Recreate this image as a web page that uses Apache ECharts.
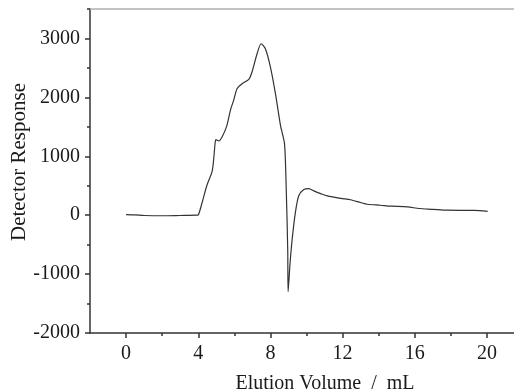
<!DOCTYPE html>
<html>
<head>
<meta charset="utf-8">
<script src="https://cdn.jsdelivr.net/npm/echarts@6/dist/echarts.min.js"></script>
<style>html,body{margin:0;padding:0;background:#fff;}#c{width:514px;height:391px;}</style>
</head>
<body>
<div id="c"></div>
<script>
const elutionVolume = [0, 0.5, 1, 2, 3, 3.9, 4.0, 4.2, 4.48, 4.76, 4.85, 4.94, 4.98, 5.13, 5.32, 5.59, 5.78, 5.96, 6.15, 6.43, 6.8, 6.98, 7.26, 7.48, 7.72, 8.0, 8.28, 8.56, 8.78, 8.88, 8.96, 8.98, 9.08, 9.2, 9.39, 9.57, 9.85, 10.13, 10.4, 10.78, 11.15, 11.9, 12.44, 13.0, 13.37, 14.1, 14.67, 15.6, 16.24, 17.0, 17.8, 19.3, 20.04];
const detectorResponse = [10, 5, -5, -10, -5, 0, 5, 198, 508, 734, 932, 1242, 1283, 1260, 1327, 1525, 1780, 1949, 2147, 2232, 2305, 2430, 2740, 2910, 2825, 2514, 2060, 1520, 1215, 400, -600, -1300, -850, -424, 60, 330, 435, 452, 412, 367, 328, 285, 262, 215, 186, 169, 153, 141, 113, 100, 85, 80, 63];
const xTickLabels = [0, 4, 8, 12, 16, 20];
const xMinorTicks = [2, 6, 10, 14, 18];
const yTickLabels = [-2000, -1000, 0, 1000, 2000, 3000];
const yMinorTicks = [-1500, -500, 500, 1500, 2500, 3500];

const font = 'Liberation Serif, Times New Roman, serif';
const axisColor = '#333';
const points = elutionVolume.map((v, i) => [v, detectorResponse[i]]);

const chart = echarts.init(document.getElementById('c'));
chart.setOption({
  animation: false,
  grid: {left: 90, right: 0, top: 9, bottom: 58, containLabel: false, outerBoundsMode: 'none'},
  xAxis: [
    {
      type: 'value', min: -2, max: 21.5, position: 'bottom',
      name: 'Elution Volume  /  mL', nameLocation: 'middle', nameGap: 41, nameMoveOverlap: false,
      nameTextStyle: {fontFamily: font, fontSize: 20, color: '#1a1a1a', padding: [0, 0, 0, 46]},
      axisLine: {show: true, onZero: false, lineStyle: {color: axisColor, width: 1.5}},
      axisTick: {show: true, customValues: xTickLabels, length: 5, lineStyle: {color: axisColor, width: 1.5}},
      axisLabel: {customValues: xTickLabels, fontFamily: font, fontSize: 20, color: '#1a1a1a', margin: 11, formatter: v => String(v)},
      splitLine: {show: false}
    },
    {
      type: 'value', min: -2, max: 21.5, position: 'bottom',
      axisLine: {show: false, onZero: false},
      axisTick: {show: true, customValues: xMinorTicks, length: 3, lineStyle: {color: axisColor, width: 1.5}},
      axisLabel: {show: false},
      splitLine: {show: false}
    },
    {
      type: 'value', min: -2, max: 21.5, position: 'top',
      axisLine: {show: true, onZero: false, lineStyle: {color: '#b0b0b0', width: 1.5}},
      axisTick: {show: false}, axisLabel: {show: false}, splitLine: {show: false}
    }
  ],
  yAxis: [
    {
      type: 'value', min: -2000, max: 3500, position: 'left',
      name: 'Detector Response', nameLocation: 'middle', nameGap: 60, nameMoveOverlap: false,
      nameTextStyle: {fontFamily: font, fontSize: 21, color: '#1a1a1a', padding: [0, 0, 0, 18]},
      axisLine: {show: true, onZero: false, lineStyle: {color: axisColor, width: 1.5}},
      axisTick: {show: true, customValues: yTickLabels, length: 5, lineStyle: {color: axisColor, width: 1.5}},
      axisLabel: {customValues: yTickLabels, fontFamily: font, fontSize: 20, color: '#1a1a1a', margin: 10, formatter: v => String(v)},
      splitLine: {show: false}
    },
    {
      type: 'value', min: -2000, max: 3500, position: 'left',
      axisLine: {show: false, onZero: false},
      axisTick: {show: true, customValues: yMinorTicks, length: 3, lineStyle: {color: axisColor, width: 1.5}},
      axisLabel: {show: false},
      splitLine: {show: false}
    }
  ],
  series: [{
    type: 'line',
    data: points,
    xAxisIndex: 0, yAxisIndex: 0,
    showSymbol: false,
    smooth: 0.25,
    lineStyle: {color: '#333', width: 1.2}
  }]
});
</script>
</body>
</html>
